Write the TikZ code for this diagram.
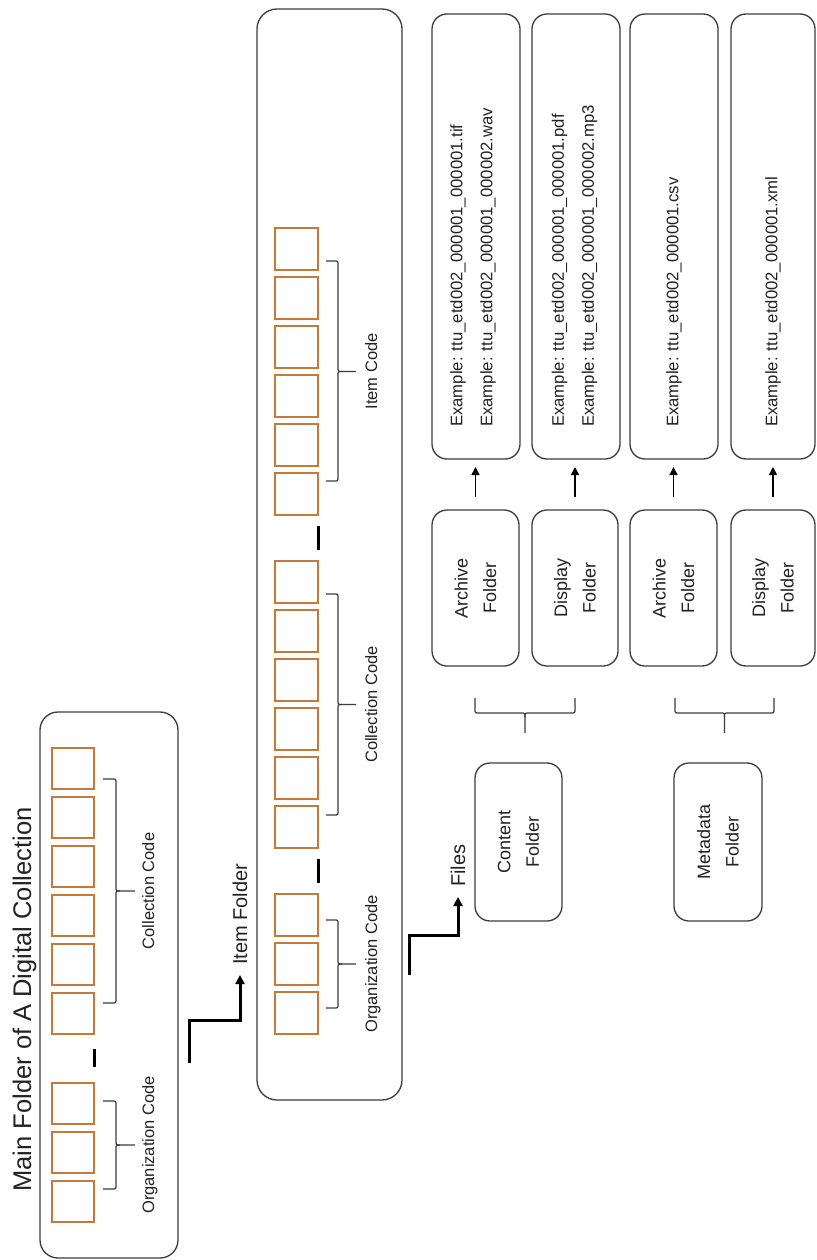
\documentclass[tikz,border=0pt]{standalone}
\usepackage{fontspec}
\setmainfont{Liberation Sans}
\usetikzlibrary{arrows.meta,calc}
\definecolor{lineg}{HTML}{3C3C3C}
\definecolor{sqor}{HTML}{C47A3A}
\definecolor{txtc}{HTML}{222222}
\newcommand\mybrV[6]{% xend xspine xtip ytop ybot ytip
  \draw[brc] (#1,#4) -- ({#2-4},#4) .. controls (#2,#4) .. (#2,{#4+4}) -- (#2,{#6-4}) .. controls (#2,#6) .. ({#2+4},#6) -- (#3,#6);
  \draw[brc] (#1,#5) -- ({#2-4},#5) .. controls (#2,#5) .. (#2,{#5-4}) -- (#2,{#6+4}) .. controls (#2,#6) .. ({#2+4},#6);
}
\newcommand\mybrH[6]{% xleft xright xtip yend yspine ytip
  \draw[brc] (#1,#4) -- (#1,{#5-4}) .. controls (#1,#5) .. ({#1+4},#5) -- ({#3-4},#5) .. controls (#3,#5) .. (#3,{#5+4}) -- (#3,#6);
  \draw[brc] (#2,#4) -- (#2,{#5-4}) .. controls (#2,#5) .. ({#2-4},#5) -- ({#3+4},#5) .. controls (#3,#5) .. (#3,{#5+4});
}
\tikzset{
  frame/.style={draw=lineg, line width=1.3pt, inner sep=0pt, outer sep=0pt},
  sqbox/.style={draw=sqor, line width=1.3pt, inner sep=0pt, outer sep=0pt},
  brc/.style={draw=lineg, line width=1.2pt},
  bar/.style={line width=3pt, draw=black},
  stepline/.style={line width=3pt, draw=black, -{Triangle[length=9pt,width=9pt]}, shorten >=10pt},
  uparr/.style={line width=1.6pt, draw=black, -{Triangle[length=8pt,width=8pt]}, shorten <=13pt, shorten >=8pt},
  lbl/.style={rotate=90, anchor=base, inner sep=0pt, text=txtc, font=\fontsize{16.5}{19}\selectfont},
  steptext/.style={rotate=90, anchor=west, inner sep=0pt, text=txtc, font=\fontsize{20}{24}\selectfont},
  foldtext/.style={rotate=90, inner sep=0pt, align=center, text=txtc, font=\fontsize{18}{28.5}\selectfont},
  extext/.style={rotate=90, anchor=west, inner sep=0pt, align=left, text=txtc, font=\fontsize{16.7}{30}\selectfont},
}
\begin{document}
\begin{tikzpicture}[x=1pt,y=-1pt]
\useasboundingbox (0,0) rectangle (816,1260);
\fill[white] (0,0) rectangle (816,1260);

% ---------------- main folder ----------------
\node[frame, rounded corners=18pt, minimum width=138pt, minimum height=546pt] (mainbox) at (109,985) {};
\node[rotate=90, anchor=base, inner sep=0pt, text=txtc, font=\fontsize{25.5}{30}\selectfont] (title) at (31,999.5) {Main Folder of A Digital Collection};
\foreach \i in {0,...,5} \node[sqbox, minimum width=42pt, minimum height=41pt] (mc\i) at (73,{768.5+49*\i}) {};
\foreach \i in {0,1,2} \node[sqbox, minimum width=42pt, minimum height=41pt] (mo\i) at (73,{1103.5+49*\i}) {};
\draw[bar] (94,1049) -- (94,1067);
\mybrV{103}{116}{135}{779}{1003}{891}
\mybrV{103}{116}{135}{1101}{1189}{1145}
\node[lbl] (mcl) at (154,891) {Collection Code};
\node[lbl] (mol) at (154,1145) {Organization Code};

% step to item folder
\coordinate (s1a) at (189,1063);
\coordinate (s1b) at (240,1020);
\node[steptext] (itemlbl) at (240,965) {Item Folder};
\draw[stepline] (s1a) |- (s1b) -- (itemlbl.west);

% ---------------- item folder ----------------
\node[frame, rounded corners=20pt, minimum width=145pt, minimum height=1091pt] (itembox) at (329.5,554.5) {};
\foreach \i in {0,...,5} \node[sqbox, minimum width=43pt, minimum height=42pt] (ii\i) at (296.5,{249+49*\i}) {};
\foreach \i in {0,...,5} \node[sqbox, minimum width=43pt, minimum height=42pt] (ic\i) at (296.5,{582+49*\i}) {};
\foreach \i in {0,1,2} \node[sqbox, minimum width=43pt, minimum height=42pt] (io\i) at (296.5,{915+49*\i}) {};
\draw[bar] (318.5,526) -- (318.5,550);
\draw[bar] (318.5,859) -- (318.5,883);
\mybrV{326}{338}{356}{261}{481}{371.5}
\mybrV{326}{338}{356}{594}{815}{704.5}
\mybrV{326}{338}{356}{920}{1008}{964}
\node[lbl] (iil) at (377,371.5) {Item Code};
\node[lbl] (icl) at (377,704.5) {Collection Code};
\node[lbl] (iol) at (377,964) {Organization Code};

% step to files
\coordinate (s2a) at (409,975);
\coordinate (s2b) at (458,935);
\node[steptext] (fileslbl) at (458,887) {Files};
\draw[stepline] (s2a) |- (s2b) -- (fileslbl.west);

% ---------------- content / metadata ----------------
\node[frame, rounded corners=15pt, minimum width=87pt, minimum height=158pt] (content) at (518.5,842) {};
\node[foldtext] (contentt) at (content) {Content\\Folder};
\node[frame, rounded corners=15pt, minimum width=88pt, minimum height=158pt] (meta) at (718,842) {};
\node[foldtext] (metat) at (meta) {Metadata\\Folder};
\mybrH{475}{575}{525}{698}{713}{733}
\mybrH{675}{774}{724.5}{698}{713}{733}

% folder boxes
\node[frame, rounded corners=15pt, minimum width=87pt, minimum height=156pt] (arch1) at (475.5,588) {};
\node[foldtext] (arch1t) at (arch1) {Archive\\Folder};
\node[frame, rounded corners=15pt, minimum width=86pt, minimum height=156pt] (disp1) at (575,588) {};
\node[foldtext] (disp1t) at (disp1) {Display\\Folder};
\node[frame, rounded corners=15pt, minimum width=87pt, minimum height=156pt] (arch2) at (673.5,588) {};
\node[foldtext] (arch2t) at (arch2) {Archive\\Folder};
\node[frame, rounded corners=15pt, minimum width=84pt, minimum height=156pt] (disp2) at (773,588) {};
\node[foldtext] (disp2t) at (disp2) {Display\\Folder};

% example boxes
\node[frame, rounded corners=15pt, minimum width=88pt, minimum height=445pt] (ex1) at (476,236.5) {};
\node[frame, rounded corners=15pt, minimum width=88pt, minimum height=445pt] (ex2) at (576,236.5) {};
\node[frame, rounded corners=15pt, minimum width=88pt, minimum height=445pt] (ex3) at (674,236.5) {};
\node[frame, rounded corners=15pt, minimum width=84pt, minimum height=445pt] (ex4) at (773,236.5) {};
\node[extext] (ex1t) at (473,427) {Example: ttu\_etd002\_000001\_000001.tif\\Example: ttu\_etd002\_000001\_000002.wav};
\node[extext] (ex2t) at (574.5,427) {Example: ttu\_etd002\_000001\_000001.pdf\\Example: ttu\_etd002\_000001\_000002.mp3};
\node[extext] (ex3t) at (674,427) {Example: ttu\_etd002\_000001.csv};
\node[extext] (ex4t) at (773,427) {Example: ttu\_etd002\_000001.xml};

% arrows
\draw[uparr] (arch1.north) -- (arch1.north |- ex1.south);
\draw[uparr] (disp1.north) -- (disp1.north |- ex2.south);
\draw[uparr] (arch2.north) -- (arch2.north |- ex3.south);
\draw[uparr] (disp2.north) -- (disp2.north |- ex4.south);
\end{tikzpicture}
\end{document}
